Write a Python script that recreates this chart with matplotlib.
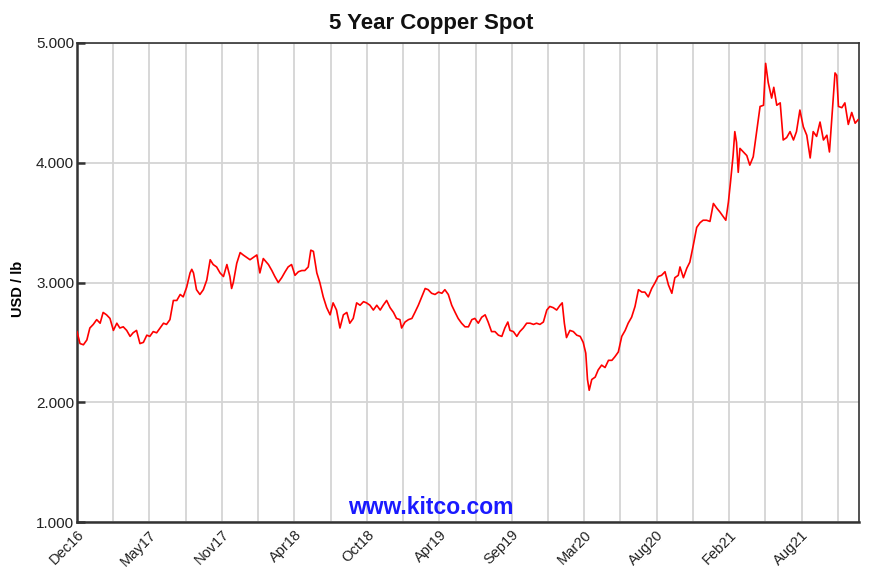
import matplotlib
matplotlib.use("Agg")
import matplotlib.pyplot as plt
import numpy as np

plt.rcParams['font.family'] = ['Liberation Sans', 'DejaVu Sans']

# Days since start of the 5-year window (Dec 2016)
days = [0, 7, 15, 23, 30, 38, 46, 54, 61, 69, 77, 85, 93, 100, 108, 116, 124, 131, 139, 147,
        155, 163, 170, 178, 186, 194, 202, 209, 217, 225, 233, 241, 248, 256, 264, 268, 272, 279, 287, 295,
        303, 311, 318, 326, 334, 342, 350, 357, 361, 365, 373, 381, 388, 396, 404, 412, 420, 427, 435,
        447, 455, 462, 470, 478, 486, 493, 501, 509, 517, 525, 532, 540, 546, 552, 560, 567, 575, 583,
        591, 598, 606, 614, 622, 630, 637, 645, 653, 661, 669, 676, 684, 692, 700, 708, 715, 723, 731,
        739, 746, 754, 758, 766, 774, 782, 789, 797, 805, 813, 820, 828, 836, 844, 852, 859, 867, 875,
        883, 890, 898, 906, 914, 922, 929, 937, 945, 953, 960, 968, 976, 984, 992, 999, 1006, 1011,
        1019, 1027, 1034, 1042, 1050, 1058, 1066, 1073, 1081, 1089, 1097, 1104, 1112, 1120, 1128, 1133,
        1138, 1143, 1151, 1159, 1167, 1175, 1182, 1188, 1192, 1196, 1202, 1210, 1217, 1225, 1233, 1241,
        1249, 1256, 1264, 1272, 1280, 1287, 1295, 1303, 1311, 1319, 1326, 1334, 1342, 1350, 1357, 1365,
        1373, 1381, 1389, 1396, 1404, 1408, 1416, 1424, 1431, 1439, 1447, 1455, 1462, 1470, 1478, 1486,
        1494, 1501, 1509, 1515, 1521, 1526, 1532, 1536, 1540, 1544, 1548, 1556, 1564, 1571, 1579, 1587,
        1595, 1603, 1608, 1614, 1622, 1627, 1634, 1642, 1649, 1657, 1665, 1673, 1680, 1688, 1696, 1704,
        1712, 1719, 1727, 1735, 1743, 1751, 1757, 1762, 1770, 1774, 1778, 1786, 1793, 1801, 1809, 1817,
        1824]

price = [2.59, 2.49, 2.48, 2.52, 2.62, 2.65, 2.69, 2.66, 2.75, 2.73, 2.70, 2.60, 2.66, 2.62, 2.63, 2.60, 2.55, 2.58, 2.60, 2.49,
         2.50, 2.56, 2.55, 2.59, 2.58, 2.62, 2.66, 2.65, 2.69, 2.85, 2.85, 2.90, 2.88, 2.96, 3.08, 3.11, 3.08, 2.94, 2.90, 2.94,
         3.02, 3.19, 3.15, 3.13, 3.08, 3.05, 3.15, 3.05, 2.95, 3.00, 3.16, 3.25, 3.23, 3.21, 3.19, 3.21, 3.23, 3.08, 3.20,
         3.15, 3.10, 3.05, 3.00, 3.04, 3.09, 3.13, 3.15, 3.06, 3.09, 3.10, 3.10, 3.13, 3.27, 3.26, 3.08, 3.00, 2.88, 2.79,
         2.73, 2.83, 2.77, 2.62, 2.73, 2.75, 2.66, 2.70, 2.83, 2.81, 2.84, 2.83, 2.81, 2.77, 2.81, 2.77, 2.81, 2.85, 2.79,
         2.75, 2.70, 2.69, 2.62, 2.67, 2.69, 2.70, 2.75, 2.81, 2.88, 2.95, 2.94, 2.91, 2.90, 2.92, 2.91, 2.94, 2.90, 2.81,
         2.75, 2.70, 2.66, 2.63, 2.63, 2.69, 2.70, 2.66, 2.71, 2.73, 2.67, 2.59, 2.59, 2.56, 2.55, 2.62, 2.67, 2.60,
         2.59, 2.55, 2.59, 2.62, 2.66, 2.66, 2.65, 2.66, 2.65, 2.67, 2.77, 2.80, 2.79, 2.77, 2.81, 2.83,
         2.66, 2.54, 2.60, 2.59, 2.56, 2.55, 2.50, 2.41, 2.19, 2.10, 2.19, 2.21, 2.27, 2.31, 2.29, 2.35,
         2.35, 2.38, 2.42, 2.55, 2.60, 2.66, 2.71, 2.80, 2.94, 2.92, 2.92, 2.88, 2.95, 3.00, 3.05, 3.06,
         3.09, 2.98, 2.91, 3.04, 3.06, 3.13, 3.04, 3.12, 3.17, 3.31, 3.46, 3.50, 3.52, 3.52, 3.51, 3.66,
         3.62, 3.59, 3.55, 3.52, 3.67, 3.84, 4.06, 4.26, 4.17, 3.92, 4.12, 4.09, 4.06, 3.98, 4.05, 4.26,
         4.47, 4.48, 4.83, 4.67, 4.54, 4.63, 4.48, 4.50, 4.19, 4.21, 4.26, 4.19, 4.26, 4.44, 4.30, 4.23,
         4.04, 4.26, 4.22, 4.34, 4.19, 4.23, 4.09, 4.34, 4.75, 4.73, 4.47, 4.46, 4.50, 4.32, 4.42, 4.33,
         4.36]

x_labels = ["Dec16", "May17", "Nov17", "Apr18", "Oct18", "Apr19", "Sep19", "Mar20", "Aug20", "Feb21", "Aug21"]
y_ticks = [1.0, 2.0, 3.0, 4.0, 5.0]

span_days = 1826
grid_step = 84.6

fig = plt.figure(figsize=(8.8, 5.74), dpi=100)
ax = fig.add_axes([77/880, 1 - 522/574, (859 - 77)/880, (522 - 43)/574])

ax.plot(days, price, color="#ff0000", lw=1.2, zorder=3)

ax.set_xlim(0, span_days)
ax.set_ylim(1.0, 5.0)

minor_pos = np.arange(0, span_days, grid_step)
major_pos = minor_pos[::2][:len(x_labels)]
ax.set_xticks(minor_pos, minor=True)
ax.set_xticks(major_pos)
ax.set_xticklabels(x_labels, rotation=45, ha="right", rotation_mode="anchor", fontsize=10.5, color="#222222")
ax.set_yticks(y_ticks)
ax.set_yticklabels([f"{v:.3f}" for v in y_ticks], fontsize=11, color="#222222")

ax.grid(True, which="both", axis="x", color="#d4d4d4", lw=1.3, zorder=0)
ax.grid(True, which="major", axis="y", color="#d4d4d4", lw=1.3, zorder=0)
ax.tick_params(axis="x", which="both", length=0, pad=4)
ax.tick_params(axis="y", which="major", direction="in", length=6, width=1.8, color="#333333", pad=2)

for side in ["left", "bottom"]:
    ax.spines[side].set_linewidth(1.8)
    ax.spines[side].set_color("#333333")
for side in ["top", "right"]:
    ax.spines[side].set_linewidth(1.2)
    ax.spines[side].set_color("#333333")

ax.set_ylabel("USD / lb", fontsize=10.5, fontweight="bold")
ax.yaxis.set_label_coords(-0.066, 0.486)
fig.text(431/880, 1 - 24/574, "5 Year Copper Spot", ha="center", va="center",
         fontsize=16, fontweight="bold", color="#111111")
ax.text(0.453, 0.03, "www.kitco.com", transform=ax.transAxes, ha="center", va="center",
        fontsize=16.5, fontweight="bold", color="#1a1aff", zorder=4)

fig.savefig("out.png", dpi=100)
